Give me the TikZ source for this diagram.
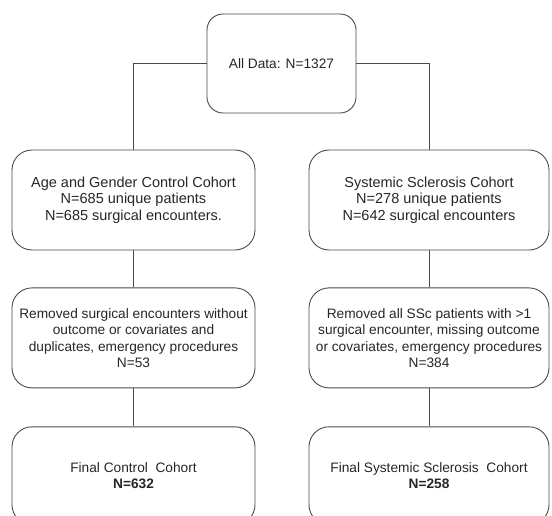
\documentclass[tikz,border=0pt]{standalone}
\usepackage{fontspec}
\setmainfont{Liberation Sans}
\usepackage{xcolor}
\usetikzlibrary{positioning, calc}
\definecolor{boxline}{HTML}{4A4A4A}
\definecolor{boxtext}{HTML}{262626}
\tikzset{
	cohortbox/.style={draw=boxline, line width=0.9pt, rounded corners=20pt, align=center, inner sep=0pt, text=boxtext, minimum width=243pt, minimum height=100pt, font=\fontsize{13.7}{16.5}\selectfont},
	link/.style={draw=boxline, line width=0.9pt}
}

\begin{document}
\begin{tikzpicture}
	\useasboundingbox (0pt, 0pt) rectangle (552pt, -516pt);
		\node[cohortbox, minimum width=149pt, minimum height=99pt, rounded corners=16pt] (all) at (281.5pt, -63.5pt) {All Data: N=1327};

		\node[cohortbox, font=\fontsize{14.5}{16.5}\selectfont] (ctrl) at (133.5pt, -200pt) {Age and Gender Control Cohort\\ N=685 unique patients\\ N=685 surgical encounters.};
		\node[cohortbox, minimum width=240pt, font=\fontsize{14.5}{16.5}\selectfont] (ssc) at (429pt, -200pt) {Systemic Sclerosis Cohort\\ N=278 unique patients\\ N=642 surgical encounters};

		\node[cohortbox, below=37pt of ctrl] (ctrlrm) {Removed surgical encounters without\\ outcome or covariates and\\ duplicates, emergency procedures\\ N=53};
		\node[cohortbox, minimum width=240pt, below=37pt of ssc] (sscrm) {Removed all SSc patients with >1\\ surgical encounter, missing outcome\\ or covariates, emergency procedures\\ N=384};

		\node[cohortbox, minimum height=98pt, below=38pt of ctrlrm] (ctrlfin) {Final Control~ Cohort\\ \textbf{N=632}};
		\node[cohortbox, minimum width=240pt, minimum height=98pt, below=38pt of sscrm] (sscfin) {Final Systemic Sclerosis~ Cohort\\ \textbf{N=258}};

		% split of the data
		\draw[link] (all.west) -| (ctrl.north);
		\draw[link] (all.east) -| (ssc.north);

		\draw[link] (ctrl) -- (ctrlrm);
		\draw[link] (ssc) -- (sscrm);
		\draw[link] (ctrlrm) -- (ctrlfin);
		\draw[link] (sscrm) -- (sscfin);
	\end{tikzpicture}
\end{document}
